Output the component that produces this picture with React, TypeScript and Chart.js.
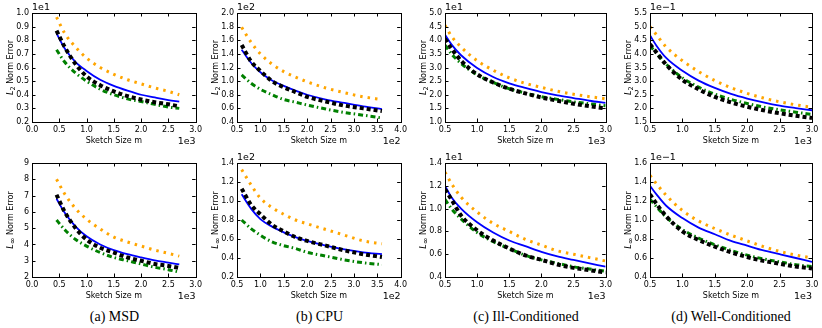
import React, { useEffect, useRef } from "react";
import { Chart, registerables } from "chart.js";

Chart.register(...registerables);

// ---------- data ----------
// MSD (x in units of 1e3)
const msdX = [0.45, 0.6, 0.8, 1.0, 1.25, 1.5, 1.75, 2.0, 2.25, 2.5, 2.7];
const msdL2Blue = [0.85, 0.74, 0.64, 0.575, 0.51, 0.465, 0.43, 0.4, 0.38, 0.36, 0.35];
const msdL2Black = [0.87, 0.75, 0.625, 0.535, 0.47, 0.425, 0.39, 0.365, 0.345, 0.33, 0.315];
const msdL2Orange = [0.97, 0.85, 0.75, 0.67, 0.6, 0.55, 0.51, 0.48, 0.45, 0.425, 0.4];
const msdL2Green = [0.73, 0.64, 0.56, 0.5, 0.44, 0.4, 0.37, 0.35, 0.33, 0.31, 0.3];
const msdLiBlue = [6.8, 5.95, 5.1, 4.5, 4.0, 3.65, 3.4, 3.2, 3.02, 2.88, 2.77];
const msdLiBlack = [7.05, 6.0, 5.0, 4.3, 3.8, 3.5, 3.2, 3.0, 2.8, 2.68, 2.55];
const msdLiOrange = [8.0, 7.1, 6.2, 5.55, 4.95, 4.45, 4.15, 3.9, 3.65, 3.45, 3.28];
const msdLiGreen = [5.5, 4.9, 4.3, 3.9, 3.5, 3.2, 3.0, 2.8, 2.6, 2.45, 2.3];

// CPU (x in units of 1e2)
const cpuX = [0.6, 0.8, 1.0, 1.25, 1.5, 1.75, 2.0, 2.4, 2.8, 3.2, 3.6];
const cpuL2Blue = [1.46, 1.27, 1.13, 1.01, 0.93, 0.86, 0.8, 0.73, 0.68, 0.63, 0.59];
const cpuL2Black = [1.53, 1.29, 1.15, 1.0, 0.91, 0.84, 0.77, 0.7, 0.64, 0.6, 0.56];
const cpuL2Orange = [1.79, 1.57, 1.4, 1.25, 1.14, 1.06, 0.99, 0.9, 0.83, 0.77, 0.73];
const cpuL2Green = [1.09, 0.97, 0.88, 0.8, 0.73, 0.69, 0.65, 0.59, 0.54, 0.5, 0.46];
const cpuLiBlue = [1.07, 0.92, 0.81, 0.73, 0.67, 0.62, 0.58, 0.53, 0.49, 0.46, 0.44];
const cpuLiBlack = [1.13, 0.96, 0.86, 0.75, 0.68, 0.62, 0.58, 0.53, 0.48, 0.44, 0.41];
const cpuLiOrange = [1.33, 1.17, 1.03, 0.93, 0.86, 0.8, 0.76, 0.7, 0.64, 0.58, 0.55];
const cpuLiGreen = [0.8, 0.71, 0.64, 0.57, 0.53, 0.5, 0.46, 0.42, 0.38, 0.35, 0.33];

// Synthetic (x in units of 1e3)
const synX = [0.5, 0.6, 0.75, 1.0, 1.25, 1.5, 1.75, 2.0, 2.25, 2.5, 2.75, 3.0];
const illL2Blue = [4.2, 3.85, 3.45, 2.98, 2.65, 2.42, 2.25, 2.1, 1.98, 1.88, 1.78, 1.7];
const illL2Black = [4.05, 3.7, 3.25, 2.75, 2.45, 2.22, 2.05, 1.9, 1.78, 1.67, 1.58, 1.5];
const illL2Orange = [4.55, 4.15, 3.75, 3.25, 2.9, 2.62, 2.42, 2.27, 2.13, 2.02, 1.93, 1.85];
const illL2Green = [3.82, 3.5, 3.15, 2.73, 2.45, 2.22, 2.06, 1.93, 1.83, 1.74, 1.67, 1.6];
const illLiBlue = [1.2, 1.1, 1.0, 0.88, 0.79, 0.72, 0.67, 0.62, 0.58, 0.55, 0.52, 0.49];
const illLiBlack = [1.17, 1.08, 0.94, 0.81, 0.72, 0.65, 0.59, 0.55, 0.51, 0.48, 0.46, 0.44];
const illLiOrange = [1.32, 1.22, 1.1, 0.97, 0.87, 0.8, 0.73, 0.68, 0.63, 0.6, 0.57, 0.54];
const illLiGreen = [1.08, 1.0, 0.91, 0.79, 0.71, 0.65, 0.59, 0.55, 0.52, 0.49, 0.47, 0.45];

const wellL2Blue = [4.68, 4.3, 3.85, 3.38, 3.02, 2.75, 2.53, 2.36, 2.22, 2.1, 2.01, 1.93];
const wellL2Black = [4.35, 4.05, 3.6, 3.05, 2.7, 2.42, 2.22, 2.06, 1.93, 1.82, 1.73, 1.65];
const wellL2Orange = [5.0, 4.7, 4.25, 3.75, 3.35, 3.02, 2.76, 2.55, 2.38, 2.24, 2.13, 2.04];
const wellL2Green = [4.3, 4.02, 3.62, 3.12, 2.78, 2.52, 2.33, 2.18, 2.05, 1.95, 1.86, 1.78];
const wellLiBlue = [1.36, 1.27, 1.15, 1.02, 0.92, 0.85, 0.78, 0.73, 0.68, 0.64, 0.6, 0.56];
const wellLiBlack = [1.27, 1.17, 1.04, 0.88, 0.79, 0.72, 0.66, 0.61, 0.57, 0.54, 0.51, 0.49];
const wellLiOrange = [1.47, 1.38, 1.26, 1.1, 0.99, 0.91, 0.84, 0.78, 0.72, 0.67, 0.63, 0.6];
const wellLiGreen = [1.22, 1.14, 1.03, 0.9, 0.81, 0.74, 0.68, 0.63, 0.59, 0.56, 0.53, 0.51];

const captions = ["(a) MSD", "(b) CPU", "(c) Ill-Conditioned", "(d) Well-Conditioned"];
const xTitle = "Sketch Size m";

// ---------- layout ----------
const COL_START = [0, 205, 410, 615];
const COL_END = [205, 410, 615, 822];
const PLOT_LEFT = [32, 237, 445, 650];
const PLOT_RIGHT = [197, 402, 607, 812];
const ROW_START = [0, 150];
const ROW_END = [150, 300];
const PLOT_TOP = [13, 163];
const PLOT_BOTTOM = [122, 277];

type Panel = {
  col: number;
  row: number;
  xs: number[];
  blue: number[];
  black: number[];
  orange: number[];
  green: number[];
  xMin: number;
  xMax: number;
  xStep: number;
  yMin: number;
  yMax: number;
  yStep: number;
  yDec: number;
  yExp: string;
  xExp: string;
  norm: string;
};

const panels: Panel[] = [
  { col: 0, row: 0, xs: msdX, blue: msdL2Blue, black: msdL2Black, orange: msdL2Orange, green: msdL2Green, xMin: 0, xMax: 3, xStep: 0.5, yMin: 0.2, yMax: 1.0, yStep: 0.1, yDec: 1, yExp: "1e1", xExp: "1e3", norm: "2" },
  { col: 1, row: 0, xs: cpuX, blue: cpuL2Blue, black: cpuL2Black, orange: cpuL2Orange, green: cpuL2Green, xMin: 0.5, xMax: 4, xStep: 0.5, yMin: 0.4, yMax: 2.0, yStep: 0.2, yDec: 1, yExp: "1e2", xExp: "1e2", norm: "2" },
  { col: 2, row: 0, xs: synX, blue: illL2Blue, black: illL2Black, orange: illL2Orange, green: illL2Green, xMin: 0.5, xMax: 3, xStep: 0.5, yMin: 1.0, yMax: 5.0, yStep: 0.5, yDec: 1, yExp: "1e1", xExp: "1e3", norm: "2" },
  { col: 3, row: 0, xs: synX, blue: wellL2Blue, black: wellL2Black, orange: wellL2Orange, green: wellL2Green, xMin: 0.5, xMax: 3, xStep: 0.5, yMin: 1.5, yMax: 5.5, yStep: 0.5, yDec: 1, yExp: "1e\u22121", xExp: "1e3", norm: "2" },
  { col: 0, row: 1, xs: msdX, blue: msdLiBlue, black: msdLiBlack, orange: msdLiOrange, green: msdLiGreen, xMin: 0, xMax: 3, xStep: 0.5, yMin: 2, yMax: 9, yStep: 1, yDec: 0, yExp: "", xExp: "1e3", norm: "\u221e" },
  { col: 1, row: 1, xs: cpuX, blue: cpuLiBlue, black: cpuLiBlack, orange: cpuLiOrange, green: cpuLiGreen, xMin: 0.5, xMax: 4, xStep: 0.5, yMin: 0.2, yMax: 1.4, yStep: 0.2, yDec: 1, yExp: "1e2", xExp: "1e2", norm: "\u221e" },
  { col: 2, row: 1, xs: synX, blue: illLiBlue, black: illLiBlack, orange: illLiOrange, green: illLiGreen, xMin: 0.5, xMax: 3, xStep: 0.5, yMin: 0.4, yMax: 1.4, yStep: 0.2, yDec: 1, yExp: "1e1", xExp: "1e3", norm: "\u221e" },
  { col: 3, row: 1, xs: synX, blue: wellLiBlue, black: wellLiBlack, orange: wellLiOrange, green: wellLiGreen, xMin: 0.5, xMax: 3, xStep: 0.5, yMin: 0.4, yMax: 1.6, yStep: 0.2, yDec: 1, yExp: "1e\u22121", xExp: "1e3", norm: "\u221e" },
];

const FONT = "'DejaVu Sans', sans-serif";

function pts(xs: number[], ys: number[]) {
  return xs.map((x, i) => ({ x, y: ys[i] }));
}

function PanelChart({ p }: { p: Panel }) {
  const ref = useRef<HTMLCanvasElement | null>(null);
  const cl = COL_START[p.col];
  const cw = COL_END[p.col] - cl;
  const rt = ROW_START[p.row];
  const rh = ROW_END[p.row] - rt;

  useEffect(() => {
    if (!ref.current) return;
    const framePlugin = {
      id: "frame",
      afterDraw(chart: any) {
        const { ctx, chartArea: a } = chart;
        const xs = chart.scales.x;
        const ys = chart.scales.y;
        ctx.save();
        ctx.strokeStyle = "#000";
        ctx.lineWidth = 1;
        ctx.strokeRect(Math.round(a.left) + 0.5, Math.round(a.top) + 0.5, Math.round(a.right - a.left), Math.round(a.bottom - a.top));
        const tl = 3.5;
        ctx.beginPath();
        xs.ticks.forEach((t: any) => {
          const px = Math.round(xs.getPixelForValue(t.value)) + 0.5;
          ctx.moveTo(px, a.bottom);
          ctx.lineTo(px, a.bottom - tl);
          ctx.moveTo(px, a.top);
          ctx.lineTo(px, a.top + tl);
        });
        ys.ticks.forEach((t: any) => {
          const py = Math.round(ys.getPixelForValue(t.value)) + 0.5;
          ctx.moveTo(a.left, py);
          ctx.lineTo(a.left + tl, py);
          ctx.moveTo(a.right, py);
          ctx.lineTo(a.right - tl, py);
        });
        ctx.stroke();
        ctx.fillStyle = "#000";
        // offset labels
        ctx.font = `9.5px ${FONT}`;
        ctx.textBaseline = "alphabetic";
        if (p.yExp) {
          ctx.textAlign = "left";
          ctx.fillText(p.yExp, a.left, a.top - 3);
        }
        ctx.textAlign = "right";
        ctx.fillText(p.xExp, a.right, a.bottom + 22);
        // x title
        ctx.font = `8px ${FONT}`;
        ctx.textAlign = "center";
        ctx.fillText(xTitle, (a.left + a.right) / 2, a.bottom + 21);
        // y title with subscript
        ctx.translate(a.left - 22, (a.top + a.bottom) / 2);
        ctx.rotate(-Math.PI / 2);
        const fItal = `italic 8px ${FONT}`;
        const fSub = `${p.norm === "2" ? 6.5 : 8}px ${FONT}`;
        const fNorm = `8px ${FONT}`;
        ctx.font = fItal;
        const wL = ctx.measureText("L").width;
        ctx.font = fSub;
        const wS = ctx.measureText(p.norm).width;
        ctx.font = fNorm;
        const rest = " Norm Error";
        const wR = ctx.measureText(rest).width;
        const total = wL + wS + wR;
        let x0 = -total / 2;
        ctx.textAlign = "left";
        ctx.textBaseline = "alphabetic";
        ctx.font = fItal;
        ctx.fillText("L", x0, 3);
        x0 += wL;
        ctx.font = fSub;
        ctx.fillText(p.norm, x0, 5);
        x0 += wS;
        ctx.font = fNorm;
        ctx.fillText(rest, x0, 3);
        ctx.restore();
      },
    };

    const ds = (data: number[], color: string, width: number, dash: number[], order: number) => ({
      data: pts(p.xs, data),
      borderColor: color,
      backgroundColor: color,
      borderWidth: width,
      borderDash: dash,
      borderCapStyle: "butt",
      pointRadius: 0,
      fill: false,
      cubicInterpolationMode: "monotone",
      order,
    });

    const chart = new Chart(ref.current, {
      type: "line",
      data: {
        datasets: [
          ds(p.black, "#000000", 4, [4, 3], 0),
          ds(p.blue, "#0000ff", 1.8, [], 1),
          ds(p.orange, "#ffa500", 3, [2.5, 5], 2),
          ds(p.green, "#008000", 3, [5, 3, 1.5, 3], 3),
        ] as any,
      },
      options: {
        animation: false,
        responsive: false,
        maintainAspectRatio: false,
        devicePixelRatio: 1,
        layout: {
          padding: {
            left: 0,
            right: COL_END[p.col] - PLOT_RIGHT[p.col],
            top: PLOT_TOP[p.row] - ROW_START[p.row],
            bottom: 0,
          },
        },
        plugins: { legend: { display: false }, tooltip: { enabled: false } },
        scales: {
          x: {
            type: "linear",
            min: p.xMin,
            max: p.xMax,
            grid: { display: false, drawTicks: false },
            border: { display: false },
            ticks: {
              stepSize: p.xStep,
              padding: 3,
              maxRotation: 0,
              autoSkip: false,
              color: "#000",
              font: { family: FONT, size: 8 },
              callback: (v: any) => Number(v).toFixed(1),
            },
            afterFit: (s: any) => {
              s.height = ROW_END[p.row] - PLOT_BOTTOM[p.row];
            },
          },
          y: {
            type: "linear",
            min: p.yMin,
            max: p.yMax,
            grid: { display: false, drawTicks: false },
            border: { display: false },
            ticks: {
              stepSize: p.yStep,
              padding: 3,
              autoSkip: false,
              color: "#000",
              font: { family: FONT, size: 8 },
              callback: (v: any) => Number(v).toFixed(p.yDec),
            },
            afterFit: (s: any) => {
              s.width = PLOT_LEFT[p.col] - COL_START[p.col];
            },
          },
        },
      } as any,
      plugins: [framePlugin],
    });
    return () => chart.destroy();
  }, []);

  return (
    <canvas
      ref={ref}
      width={cw}
      height={rh}
      style={{ position: "absolute", left: cl, top: rt, width: cw, height: rh }}
    />
  );
}

export default function App() {
  return (
    <div style={{ position: "absolute", left: 0, top: 0, width: 822, height: 328, background: "#fff", overflow: "hidden" }}>
      {panels.map((p, i) => (
        <PanelChart key={i} p={p} />
      ))}
      {captions.map((c, i) => (
        <div
          key={c}
          style={{
            position: "absolute",
            left: (PLOT_LEFT[i] + PLOT_RIGHT[i]) / 2 - 100,
            width: 200,
            top: 308,
            textAlign: "center",
            fontFamily: "'Liberation Serif', 'Times New Roman', serif",
            fontSize: 14,
            color: "#000",
            lineHeight: "18px",
          }}
        >
          {c}
        </div>
      ))}
    </div>
  );
}
